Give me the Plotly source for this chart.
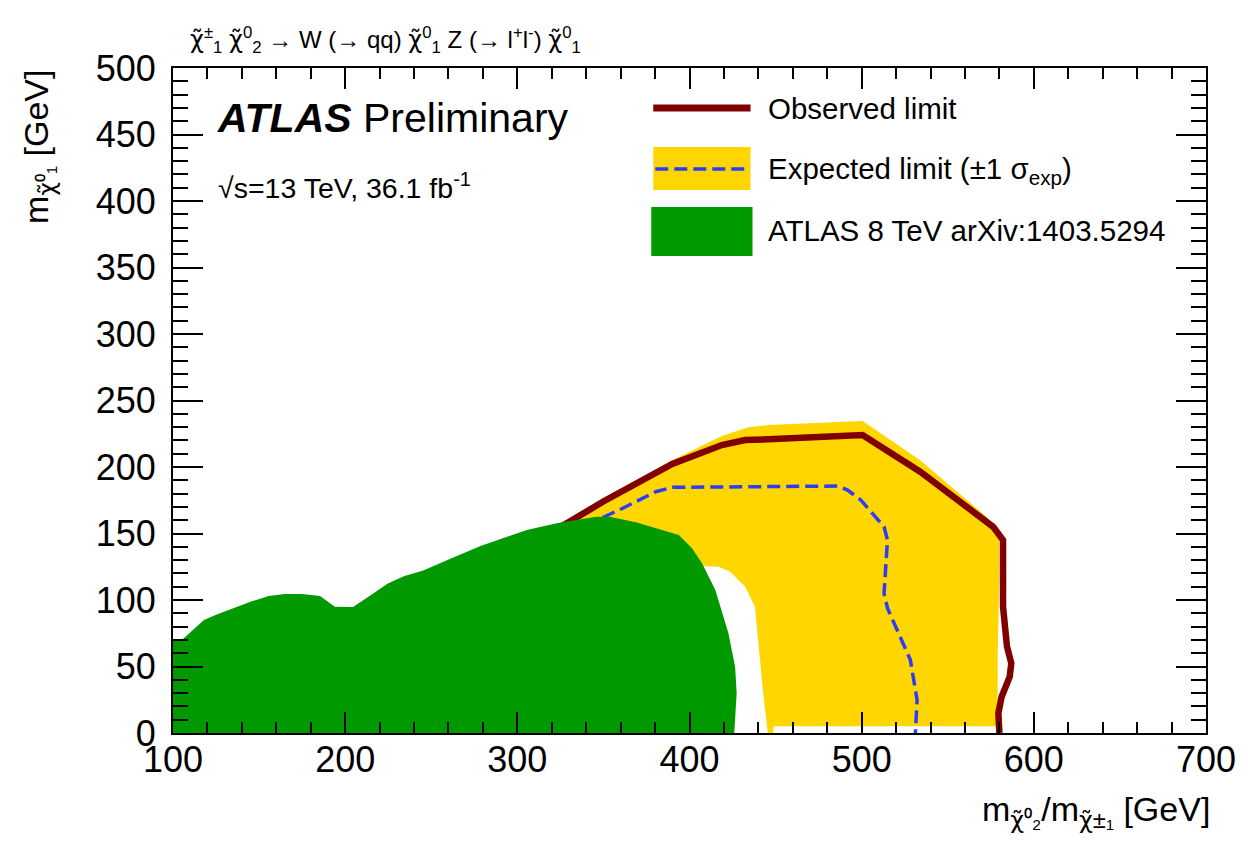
import plotly.graph_objects as go

# ---------------- data ----------------
# ATLAS 8 TeV excluded region (green)
green_x = [100, 100, 105.6, 118, 125, 139, 145, 155.6, 165, 174.8, 185.4, 194, 204.6, 215,
           224.8, 234.4, 245, 259.4, 278.6, 305.5, 322.8, 345.8, 353.5, 368.9, 388, 393.8,
           401.5, 407.3, 415, 422.6, 426.5, 427.4, 426, 100]
green_y = [0, 70, 70.4, 85, 89, 96, 98.7, 103, 104.5, 104.5, 103, 95, 94.7, 103.8,
           112.5, 118, 122, 130, 140.6, 152.6, 157.7, 162.6, 162.6, 158.4, 151.4, 148.9,
           138.9, 127.6, 107.5, 75, 49.8, 29.8, 0, 0]

# Expected +-1 sigma band (yellow): outer contour then inner contour back
band_x = [325, 349.7, 390, 418.8, 434.2, 445.7, 500.5, 534, 572.5, 580, 580, 579, 579,
          449, 448.5, 445.5, 442.8, 440, 438, 432.3, 423.6, 417, 407.3, 330, 325]
band_y = [156, 176.5, 205, 223.3, 229.8, 231.6, 234.6, 205, 162.6, 150, 120, 60, 5,
          5, 0, 0, 29.8, 65, 95, 110, 121.3, 125, 125.6, 126, 156]

# Expected limit (dashed blue)
exp_x = [340, 350.6, 361.2, 380.4, 390, 486, 491.8, 499.5, 513, 515, 513, 515, 528.3, 532.2, 531.2]
exp_y = [155, 162.6, 169, 181.4, 184.7, 185.7, 182.7, 175.2, 155, 145.1, 105, 93.8, 54.9, 24.8, 0]

# Observed limit (dark red)
obs_x = [322, 330.4, 349.7, 390, 418.8, 432.3, 445.7, 500.5, 534, 576.4, 582.1, 582.5,
         582.1, 584.4, 586.9, 586, 581.3, 579.4, 580]
obs_y = [153, 158.9, 173.9, 202.3, 216.5, 220.3, 220.8, 224, 196.5, 155, 145.1, 120,
         95, 65, 52.4, 42.3, 27.3, 14.8, 0]

x_ticks = [100, 200, 300, 400, 500, 600, 700]
y_ticks = [0, 50, 100, 150, 200, 250, 300, 350, 400, 450, 500]

legend_labels = ["Observed limit",
                 "Expected limit (±1 σ<sub>exp</sub>)",
                 "ATLAS 8 TeV arXiv:1403.5294"]

# ---------------- styles ----------------
YELLOW = "#FFD600"
GREEN = "#009A00"
RED = "#800000"
BLUE = "#2B3EF5"
FONT = "Liberation Sans, Arial, Helvetica, sans-serif"
CHI = '<span style="font-family:DejaVu Sans">χ̃</span>'

W, H = 1248, 850
ML, MR, MT, MB = 173, 34, 68, 117
PW, PH = W - ML - MR, H - MT - MB


def px(x):
    return (x - ML) / PW


def py(y):
    return (H - MB - y) / PH


fig = go.Figure()
fig.add_trace(go.Scatter(x=band_x, y=band_y, mode="lines", fill="toself",
                         fillcolor=YELLOW, line=dict(width=0, color=YELLOW),
                         hoverinfo="skip", showlegend=False))
fig.add_trace(go.Scatter(x=exp_x, y=exp_y, mode="lines",
                         line=dict(color=BLUE, width=3.5, dash="13px,6px"),
                         hoverinfo="skip", showlegend=False))
fig.add_trace(go.Scatter(x=obs_x, y=obs_y, mode="lines",
                         line=dict(color=RED, width=6.5),
                         hoverinfo="skip", showlegend=False))
fig.add_trace(go.Scatter(x=green_x, y=green_y, mode="lines", fill="toself",
                         fillcolor=GREEN, line=dict(width=0, color=GREEN),
                         hoverinfo="skip", showlegend=False))

axis_common = dict(showgrid=False, zeroline=False, showline=True, linecolor="black",
                   linewidth=2, mirror="ticks", ticks="inside", tickcolor="black",
                   tickwidth=2, tickfont=dict(family=FONT, size=36, color="black"))

fig.update_xaxes(range=[100, 700], tickvals=x_ticks, ticklen=21,
                 minor=dict(dtick=20, ticks="inside", ticklen=11, tickwidth=2, tickcolor="black"),
                 ticklabelstandoff=-6, **axis_common)
fig.update_yaxes(range=[0, 500], tickvals=y_ticks, ticklen=30,
                 minor=dict(dtick=10, ticks="inside", ticklen=15, tickwidth=2, tickcolor="black"),
                 ticklabelstandoff=8, **axis_common)

ann = []
ann.append(dict(text=f"{CHI}<sup>±</sup><sub>1</sub> {CHI}<sup>0</sup><sub>2</sub> → W (→ qq) "
                     f"{CHI}<sup>0</sup><sub>1</sub> Z (→ l<sup>+</sup>l<sup>-</sup>) {CHI}<sup>0</sup><sub>1</sub>",
                x=px(188), y=py(40), xanchor="left", yanchor="middle", font=dict(size=24)))
ann.append(dict(text="<b><i>ATLAS</i></b> Preliminary", x=px(215), y=py(118),
                xanchor="left", yanchor="middle", font=dict(size=41)))
ann.append(dict(text="√s=13 TeV, 36.1 fb<sup>-1</sup>", x=px(216), y=py(186),
                xanchor="left", yanchor="middle", font=dict(size=28.5)))
for lab, yy in zip(legend_labels, [108, 170, 231]):
    ann.append(dict(text=lab, x=px(771), y=py(yy), xanchor="left", yanchor="middle",
                    font=dict(size=29.5)))
ann.append(dict(text=f"m<sub>{CHI}⁰₁</sub> [GeV]", x=px(38), y=py(68), xanchor="center",
                yanchor="top", textangle=-90, font=dict(size=34)))
ann.append(dict(text=f"m<sub>{CHI}⁰₂</sub>/m<sub>{CHI}±₁</sub> [GeV]", x=px(1220), y=py(812),
                xanchor="right", yanchor="middle", font=dict(size=34)))
for a in ann:
    a.update(xref="paper", yref="paper", showarrow=False)
    a["font"].update(family=FONT, color="black")

shapes = [
    dict(type="rect", x0=px(657), x1=px(755), y0=py(147), y1=py(190),
         fillcolor=YELLOW, line=dict(width=0)),
    dict(type="line", x0=px(659), x1=px(752), y0=py(169), y1=py(169),
         line=dict(color=BLUE, width=3.5, dash="13px,6px")),
    dict(type="line", x0=px(657), x1=px(755), y0=py(108), y1=py(108),
         line=dict(color=RED, width=7)),
    dict(type="rect", x0=px(655), x1=px(757), y0=py(207), y1=py(256),
         fillcolor=GREEN, line=dict(width=0)),
]
for s in shapes:
    s.update(xref="paper", yref="paper")

fig.update_layout(width=W, height=H, margin=dict(l=ML, r=MR, t=MT, b=MB),
                  plot_bgcolor="white", paper_bgcolor="white",
                  annotations=ann, shapes=shapes, showlegend=False,
                  font=dict(family=FONT, color="black"))

fig.write_html("out.html", config={"displayModeBar": False})
